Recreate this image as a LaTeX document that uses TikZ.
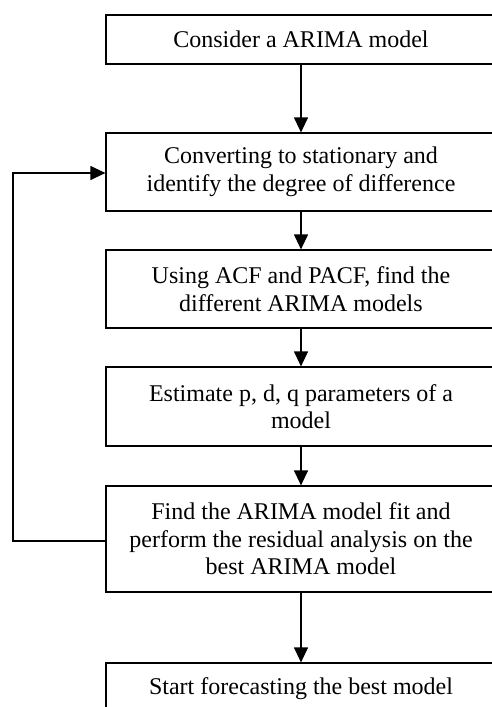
\documentclass[tikz,border=0pt]{standalone}
\usepackage{fontspec}
\setmainfont{Liberation Serif}
\usetikzlibrary{arrows.meta,calc}
\begin{document}
\begin{tikzpicture}[x=1pt,y=-1pt,
  box/.style={draw,line width=1.2pt,minimum width=390pt,align=center,inner sep=0pt,
    font=\fontsize{24}{27.6}\selectfont},
  conn/.style={line width=1.2pt,-{Triangle[length=15pt,width=14pt]}}]
\useasboundingbox (0,0) rectangle (492,707);
\clip (0,0) rectangle (492,707);
\node[box,minimum height=49pt] (b1) at (301,39.5) {Consider a ARIMA model};
\node[box,minimum height=78pt] (b2) at (301,172) {Converting to stationary and\\identify the degree of difference};
\node[box,minimum height=78pt] (b3) at (301,289) {Using ACF and PACF, find the\\different ARIMA models};
\node[box,minimum height=79pt] (b4) at (301,406.5) {Estimate p, d, q parameters of a\\model};
\node[box,minimum height=106pt] (b5) at (301,539) {Find the ARIMA model fit and\\perform the residual analysis on the\\best ARIMA model};
\node[box,minimum height=54pt,text depth=8pt] (b6) at (301,690) {Start forecasting the best model};
\coordinate (c1) at (13,541);
\coordinate (c2) at (13,173);
\draw[conn] (b1) -- (b2);
\draw[conn] (b2) -- (b3);
\draw[conn] (b3) -- (b4);
\draw[conn] (b4) -- (b5);
\draw[conn] (b5) -- (b6);
\draw[conn] (b5.west |- c1) -- (c1) -- (c2) -- (b2.west |- c2);
\end{tikzpicture}
\end{document}
